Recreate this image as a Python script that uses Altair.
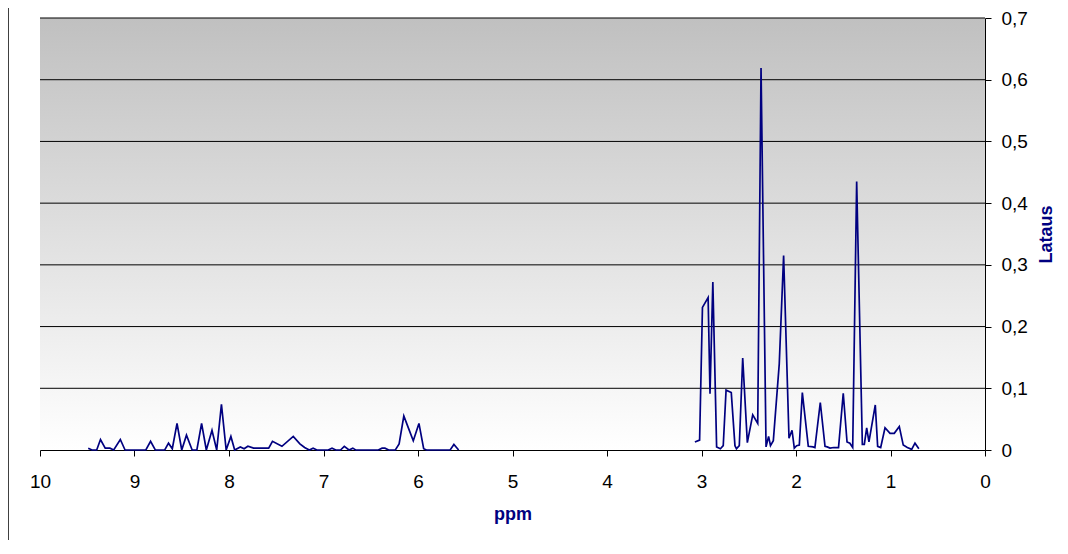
import altair as alt
import pandas as pd

# left group of signals (aromatic region)
ppm_a = [9.49, 9.45, 9.40, 9.36, 9.31, 9.26, 9.22, 9.15, 9.10, 9.05, 8.88, 8.83, 8.78,
         8.68, 8.64, 8.60, 8.55, 8.50, 8.45, 8.39, 8.34, 8.29, 8.24, 8.18, 8.13, 8.08,
         8.03, 7.98, 7.94, 7.88, 7.84, 7.80, 7.74, 7.67, 7.58, 7.54, 7.44, 7.32, 7.25,
         7.20, 7.15, 7.11, 7.07, 6.95, 6.91, 6.87, 6.82, 6.78, 6.73, 6.69, 6.66, 6.42,
         6.38, 6.35, 6.31, 6.24, 6.20, 6.15, 6.10, 6.05, 5.99, 5.94, 5.91, 5.66, 5.62, 5.57]
val_a = [0.003, 0.0, 0.0, 0.017, 0.003, 0.003, 0.0, 0.017, 0.0, 0.0, 0.0, 0.014, 0.0,
         0.0, 0.011, 0.002, 0.043, 0.0, 0.024, 0.0, 0.0, 0.043, 0.0, 0.032, 0.0, 0.074,
         0.0, 0.022, 0.0, 0.005, 0.002, 0.006, 0.003, 0.003, 0.003, 0.014, 0.006, 0.022, 0.010,
         0.004, 0.0, 0.003, 0.0, 0.0, 0.003, 0.0, 0.0, 0.006, 0.0, 0.003, 0.0, 0.0,
         0.003, 0.003, 0.0, 0.0, 0.010, 0.055, 0.035, 0.015, 0.043, 0.002, 0.0, 0.0, 0.009, 0.0]

# right group of signals (aliphatic region)
ppm_b = [3.07, 3.02, 2.99, 2.93, 2.91, 2.88, 2.84, 2.80, 2.77, 2.74, 2.685, 2.646, 2.63,
         2.60, 2.564, 2.515, 2.458, 2.405, 2.37, 2.317, 2.29, 2.27, 2.24, 2.177, 2.131,
         2.074, 2.042, 2.018, 1.993, 1.965, 1.933, 1.87, 1.82, 1.80, 1.743, 1.693, 1.67,
         1.64, 1.60, 1.55, 1.50, 1.46, 1.43, 1.40, 1.358, 1.298, 1.277, 1.252, 1.228,
         1.161, 1.136, 1.104, 1.058, 1.005, 0.96, 0.907, 0.865, 0.822, 0.776, 0.741, 0.70]
val_b = [0.013, 0.016, 0.231, 0.247, 0.091, 0.272, 0.005, 0.002, 0.007, 0.097, 0.093, 0.007, 0.002,
         0.007, 0.149, 0.012, 0.057, 0.043, 0.619, 0.005, 0.022, 0.007, 0.015, 0.140, 0.315,
         0.019, 0.032, 0.003, 0.007, 0.008, 0.093, 0.006, 0.005, 0.004, 0.077, 0.006, 0.005,
         0.003, 0.004, 0.004, 0.092, 0.013, 0.011, 0.004, 0.435, 0.009, 0.009, 0.036, 0.013,
         0.073, 0.006, 0.004, 0.036, 0.027, 0.027, 0.038, 0.008, 0.004, 0.001, 0.011, 0.002]

x_ticks = [0, 1, 2, 3, 4, 5, 6, 7, 8, 9, 10]
y_ticks = [0, 0.1, 0.2, 0.3, 0.4, 0.5, 0.6, 0.7]

df = pd.DataFrame({
    "ppm": ppm_a + ppm_b,
    "Lataus": val_a + val_b,
    "seg": ["a"] * len(ppm_a) + ["b"] * len(ppm_b),
})
grid_df = pd.DataFrame({"Lataus": y_ticks[1:]})
one = pd.DataFrame({"k": [0]})

FONT = "Liberation Sans"
NAVY = "#000080"

xs = alt.Scale(domain=[10, 0], nice=False, zero=False)
ys = alt.Scale(domain=[0, 0.7], nice=False)

x_axis = alt.Axis(values=x_ticks, grid=False, domainColor="#000", tickColor="#000",
                  tickSize=6, labelPadding=16, labelFontSize=19, labelFont=FONT,
                  labelColor="#000", labelFlush=False, labelOverlap=False,
                  titleFont=FONT, titleFontSize=18, titleFontWeight="bold",
                  titleColor=NAVY, titlePadding=14)
y_axis = alt.Axis(orient="right", values=y_ticks, grid=False, domainColor="#000",
                  tickColor="#000", tickSize=6,
                  labelPadding=10, labelFontSize=19, labelFont=FONT, labelColor="#000",
                  labelFlush=False, labelOverlap=False,
                  labelExpr="datum.value == 0 ? '0' : replace(format(datum.value, '.1f'), '.', ',')",
                  titleFont=FONT, titleFontSize=18, titleFontWeight="bold",
                  titleColor=NAVY, titleAngle=270, titlePadding=28)

grad = alt.Gradient(
    gradient="linear", x1=0, y1=0, x2=0, y2=1,
    stops=[alt.GradientStop(offset=0, color="#c0c0c0"),
           alt.GradientStop(offset=0.6, color="#e6e6e6"),
           alt.GradientStop(offset=1, color="#ffffff")],
)

bg = alt.Chart(one).mark_rect(color=grad).encode(
    x=alt.datum(10, scale=xs, axis=x_axis, title="ppm"),
    x2=alt.datum(0),
    y=alt.datum(0.7, scale=ys, axis=y_axis, title="Lataus"),
    y2=alt.datum(0),
)

grid = alt.Chart(grid_df).mark_rule(color="#000", strokeWidth=1).encode(
    y=alt.Y("Lataus:Q", scale=ys, title="Lataus", axis=y_axis),
)

line = alt.Chart(df).mark_line(color=NAVY, strokeWidth=1.7).encode(
    x=alt.X("ppm:Q", scale=xs, title="ppm", axis=x_axis),
    y=alt.Y("Lataus:Q", scale=ys, title="Lataus", axis=y_axis),
    detail="seg:N",
)

frame = alt.Chart(one).mark_rule(color="#000", strokeWidth=1.5).encode(
    x=alt.value(-32), y=alt.value(-10), y2=alt.value(522)
)

chart = alt.layer(bg, grid, line, frame).properties(
    width=945, height=432,
    padding={"left": 32, "top": 10, "right": 75, "bottom": 90},
    autosize=alt.AutoSizeParams(type="none"),
).configure_view(stroke="transparent")

chart.save("out.html", embed_options={"renderer": "svg", "actions": False})
